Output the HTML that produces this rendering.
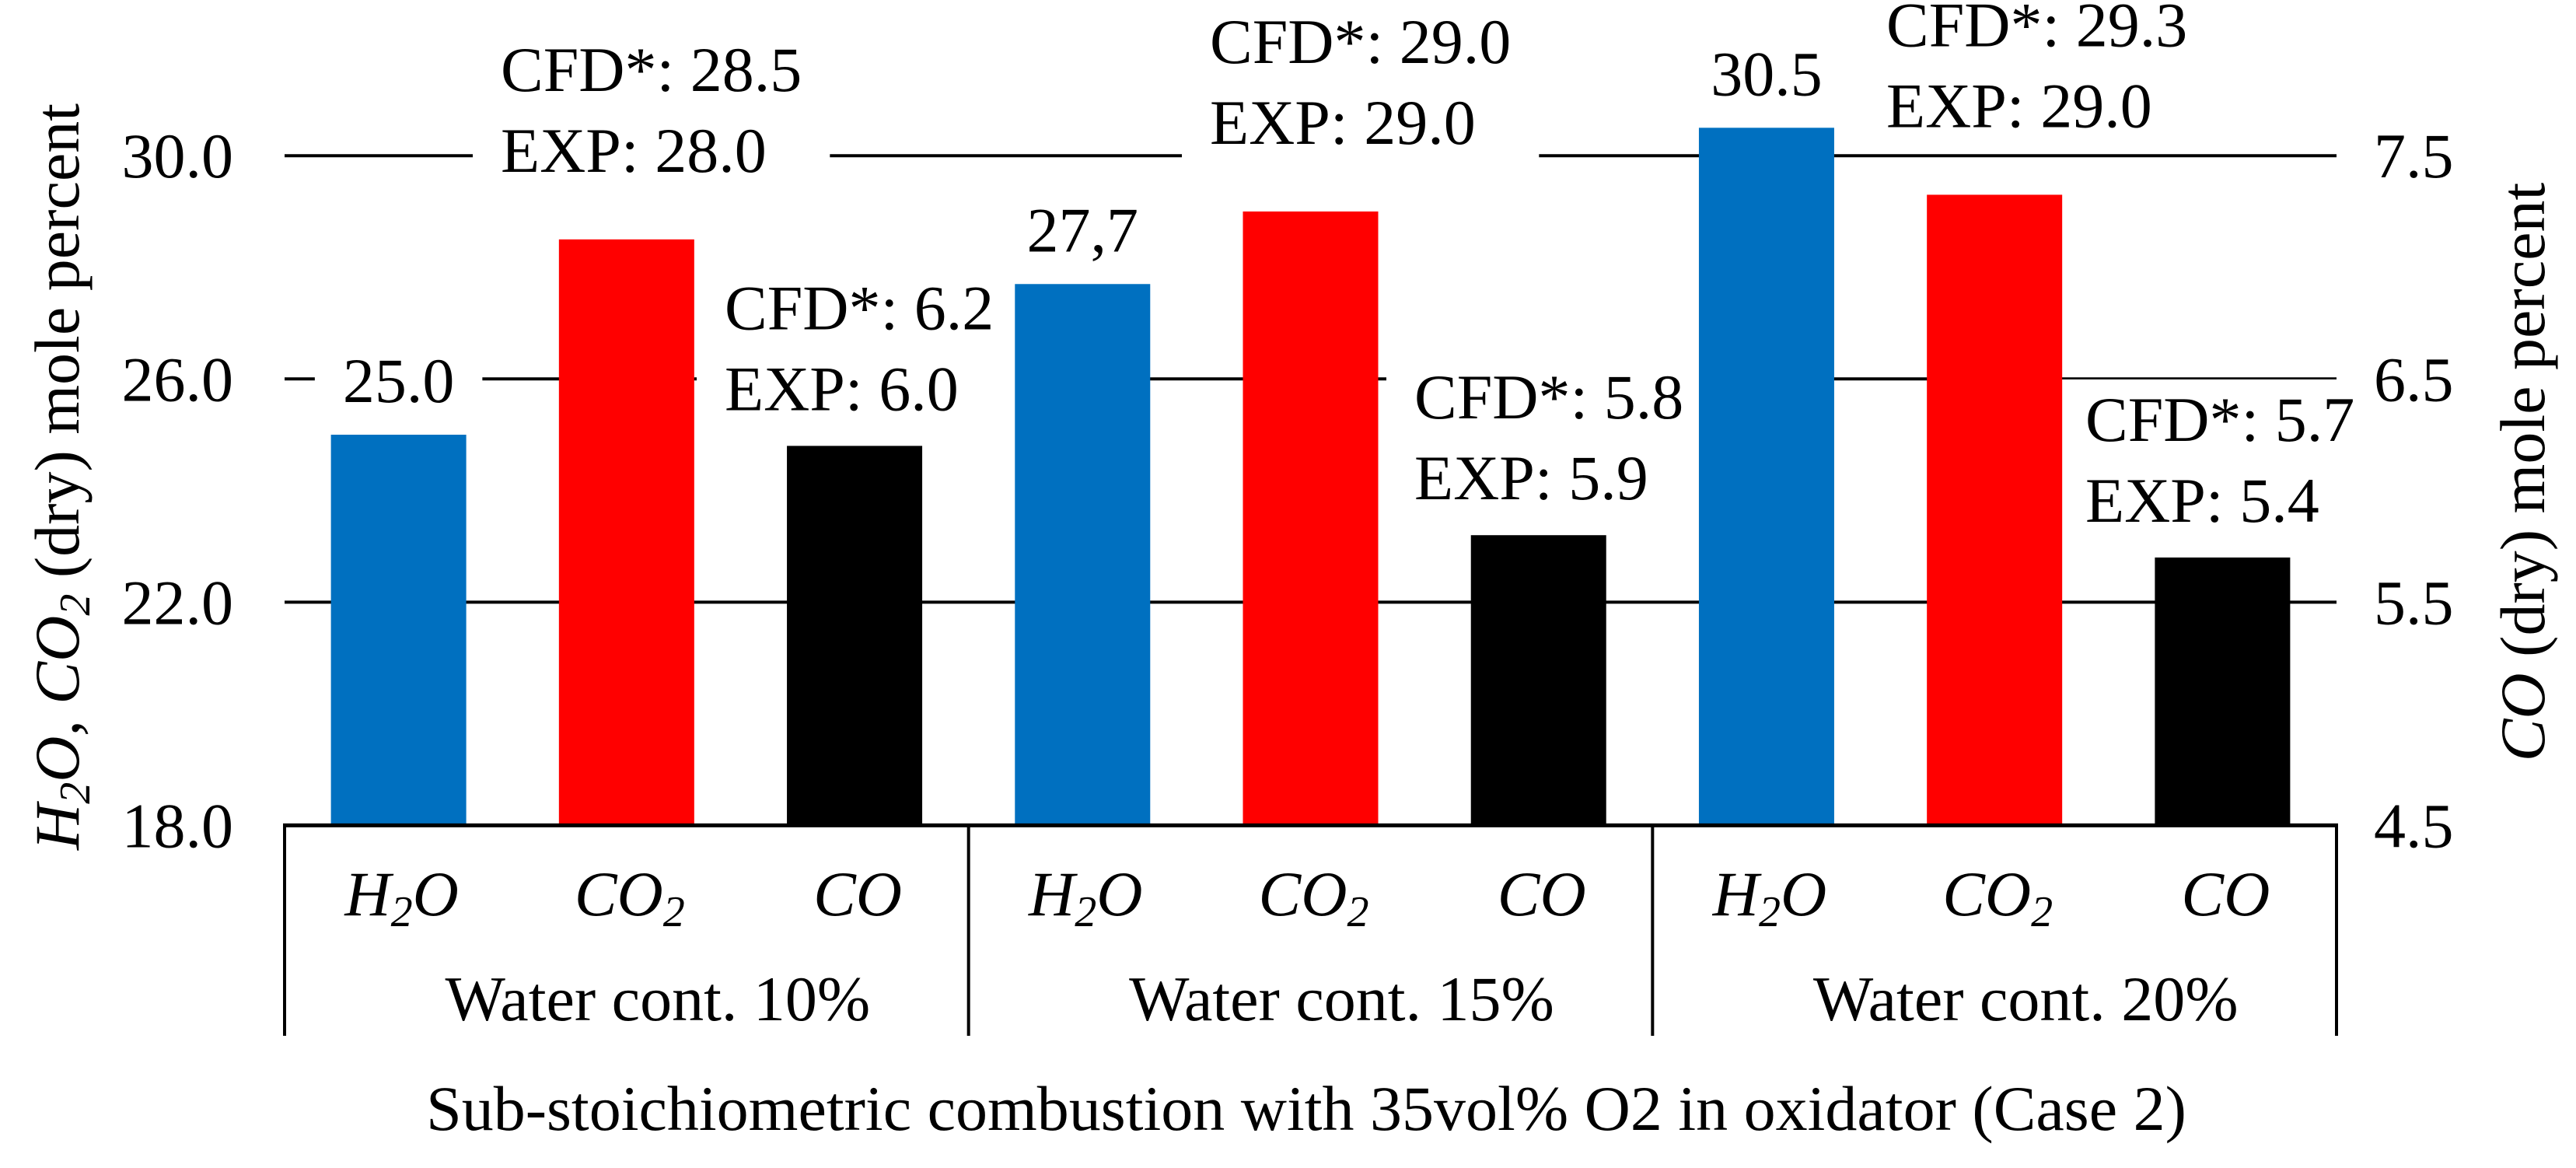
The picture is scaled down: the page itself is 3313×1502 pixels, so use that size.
<!DOCTYPE html>
<html><head><meta charset="utf-8"><style>
html,body{margin:0;padding:0;background:#fff;}
svg{display:block;}
svg text, svg tspan{font-family:"Liberation Serif","Times New Roman",Times,"Noto Serif CJK SC","DejaVu Serif",serif !important;}
</style></head><body>
<svg id="chart" width="3313" height="1502" viewBox="0 0 3313 1502" xmlns="http://www.w3.org/2000/svg" style="font-family:'Liberation Serif','Times New Roman','Noto Serif CJK SC',serif">
<g id="grid"></g>
<g id="knock"></g>
<g id="bars"></g>
<g id="labels"></g>
<g id="axes"></g>
<text transform="translate(101,613) rotate(-90)" text-anchor="middle" font-size="82"><tspan font-style="italic">H</tspan><tspan font-style="italic" font-size="56" dy="14">2</tspan><tspan font-style="italic" dy="-14">O, CO</tspan><tspan font-style="italic" font-size="56" dy="14">2</tspan><tspan dy="-14"> (dry) mole percent</tspan></text>
<text transform="translate(3272,607) rotate(-90)" text-anchor="middle" font-size="82"><tspan font-style="italic">CO</tspan> (dry) mole percent</text>
<text x="1680" y="1453" text-anchor="middle" font-size="82">Sub-stoichiometric combustion with 35vol% O2 in oxidator (Case 2)</text>
</svg>
<script>
const groups = ["Water cont. 10%", "Water cont. 15%", "Water cont. 20%"];
const species = ["H2O", "CO2", "CO"];
const h2oValues = [25.0, 27.7, 30.5];
const co2Values = [28.5, 29.0, 29.3];
const coValues = [6.2, 5.8, 5.7];
const leftTicks = [18, 22, 26, 30];
const leftTickLabels = ["18.0", "22.0", "26.0", "30.0"];
const rightTicks = [4.5, 5.5, 6.5, 7.5];
const rightTickLabels = ["4.5", "5.5", "6.5", "7.5"];
const h2oLabels = ["25.0", "27,7", "30.5"];
const co2Labels = [["CFD*: 28.5", "EXP: 28.0"], ["CFD*: 29.0", "EXP: 29.0"], ["CFD*: 29.3", "EXP: 29.0"]];
const coLabels = [["CFD*: 6.2", "EXP: 6.0"], ["CFD*: 5.8", "EXP: 5.9"], ["CFD*: 5.7", "EXP: 5.4"]];

const NS = "http://www.w3.org/2000/svg";
const X0 = 366, X1 = 3005, Y0 = 1061.4, YTOP = 200.2;
const yL = v => Y0 - (v - 18) / 12 * (Y0 - YTOP);
const yR = v => Y0 - (v - 4.5) / 3 * (Y0 - YTOP);
const gW = (X1 - X0) / groups.length;
const slotX = (g, k) => X0 + g * gW + (k + 0.5) * gW / 3;
const BW = 174;
const colors = ["#0070C0", "#FF0000", "#000000"];
function mk(tag, attrs, parent) {
  const e = document.createElementNS(NS, tag);
  for (const k in attrs) e.setAttribute(k, attrs[k]);
  parent.appendChild(e);
  return e;
}
const grid = document.getElementById("grid");
const knock = document.getElementById("knock");
const bars = document.getElementById("bars");
const labels = document.getElementById("labels");
const axes = document.getElementById("axes");

leftTicks.forEach((t, i) => {
  if (i > 0) {
    const l = mk("line", {x1: X0, x2: X1, y1: yL(t), y2: yL(t), stroke: "#000", "stroke-width": 4}, grid);
    
    
  }
  const tx = mk("text", {x: 300, y: yL(t) + 28, "text-anchor": "end", "font-size": 82}, axes);
  tx.textContent = leftTickLabels[i];
  
  
});
rightTicks.forEach((t, i) => {
  const tx = mk("text", {x: 3053, y: yR(t) + 28, "text-anchor": "start", "font-size": 82}, axes);
  tx.textContent = rightTickLabels[i];
  
  
});

const series = [h2oValues.map(yL), co2Values.map(yL), coValues.map(yR)];
groups.forEach((g, gi) => {
  for (let k = 0; k < 3; k++) {
    const top = series[k][gi];
    const r = mk("rect", {x: slotX(gi, k) - BW / 2, y: top, width: BW, height: Y0 - top, fill: colors[k]}, bars);
    
    
  }
});

function addLabel(lines, x, yBase, anchor, name) {
  const g = mk("g", {}, labels);
  
  
  const texts = lines.map((s, i) => {
    const t = mk("text", {x: x, y: yBase + i * 104, "text-anchor": anchor, "font-size": 82}, g);
    t.textContent = s;
    return t;
  });
  let minX = 1e9, maxX = -1e9, minY = 1e9, maxY = -1e9;
  texts.forEach(t => { const b = t.getBBox(); minX = Math.min(minX, b.x); maxX = Math.max(maxX, b.x + b.width); minY = Math.min(minY, b.y); maxY = Math.max(maxY, b.y + b.height); });
  const bg = mk("rect", {fill: "#fff", x: minX - 36, width: maxX - minX + 72, y: minY - 6, height: maxY - minY + 12}, knock);
  
  
}
groups.forEach((g, gi) => {
  addLabel([h2oLabels[gi]], slotX(gi, 0), series[0][gi] - 42, "middle", "h2o-value-label");
});
const co2LabelLeft = [644, 1556, 2426];
const coLabelLeft = [932, 1819, 2682];
groups.forEach((g, gi) => {
  addLabel(co2Labels[gi], co2LabelLeft[gi], series[1][gi] - 191, "start", "co2-value-label");
  addLabel(coLabels[gi], coLabelLeft[gi], series[2][gi] - 150, "start", "co-value-label");
});

const base = mk("line", {x1: X0 - 2, x2: X1 + 2, y1: Y0, y2: Y0, stroke: "#000", "stroke-width": 5}, axes);


for (let i = 0; i <= groups.length; i++) {
  const x = X0 + i * gW;
  const d = mk("line", {x1: x, x2: x, y1: Y0, y2: 1332, stroke: "#000", "stroke-width": 4}, axes);
  
  
}
groups.forEach((g, gi) => {
  for (let k = 0; k < 3; k++) {
    const t = mk("text", {x: slotX(gi, k) + 4, y: 1177, "text-anchor": "middle", "font-size": 82, "font-style": "italic"}, axes);
    
    
    if (k === 0) t.innerHTML = 'H<tspan font-size="56" dy="14">2</tspan><tspan dy="-14">O</tspan>';
    else if (k === 1) t.innerHTML = 'CO<tspan font-size="56" dy="14">2</tspan>';
    else t.textContent = "CO";
  }
  const gl = mk("text", {x: X0 + (gi + 0.5) * gW + 40, y: 1312, "text-anchor": "middle", "font-size": 82}, axes);
  gl.textContent = g;
  
  
});
</script>
</body></html>
